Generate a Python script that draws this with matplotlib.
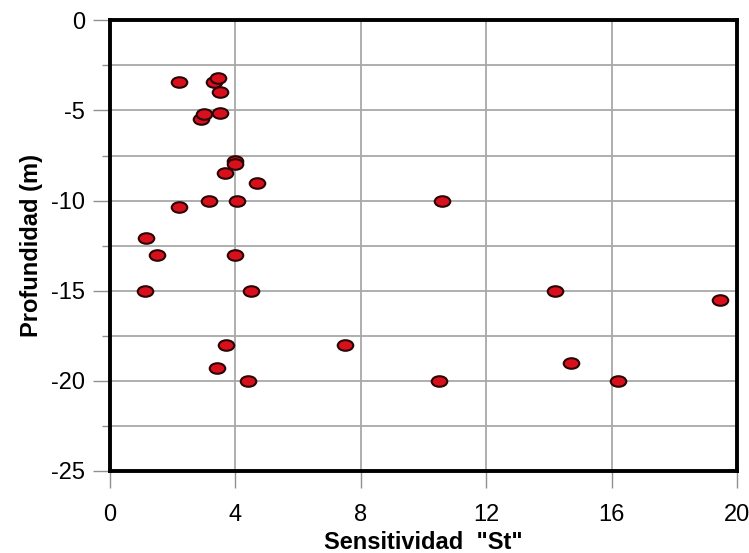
import numpy as np
import matplotlib
matplotlib.use("Agg")
import matplotlib.pyplot as plt
from matplotlib.path import Path

# sensitivity St vs depth (m)
st = [2.2, 3.3, 3.45, 3.5, 2.9, 3.0, 3.5, 4.0, 4.0, 3.65, 4.7,
      3.15, 4.05, 10.6, 2.2, 1.15, 1.5, 4.0, 1.1, 4.5, 14.2, 19.45,
      3.7, 7.5, 3.4, 14.7, 4.4, 10.5, 16.2]
depth = [-3.4, -3.4, -3.2, -3.95, -5.45, -5.2, -5.15, -7.8, -7.95, -8.45, -9.0,
         -10.0, -10.0, -10.0, -10.35, -12.1, -13.0, -13.0, -15.0, -15.0, -15.0, -15.5,
         -18.0, -18.0, -19.3, -19.0, -20.0, -20.0, -20.0]

x_ticks = [0, 4, 8, 12, 16, 20]
y_ticks = [0, -5, -10, -15, -20, -25]

plt.rcParams["font.family"] = "Liberation Sans"
plt.rcParams["axes.unicode_minus"] = False

# flattened ellipse marker
circ = Path.unit_circle()
ellipse = Path(circ.vertices * np.array([1.0, 0.68]), circ.codes)

fig = plt.figure(figsize=(7.49, 5.53), dpi=100)
ax = fig.add_axes([0.147, 0.149, 0.837, 0.814])

ax.scatter(st, depth, marker=ellipse, s=125, facecolor="#d8101c",
           edgecolor="#2a0505", linewidth=1.5, zorder=3)

ax.set_xlim(0, 20)
ax.set_ylim(-25, 0)
ax.set_xticks(x_ticks)
ax.set_yticks(y_ticks)
ax.set_yticks(np.arange(-22.5, 0, 5), minor=True)
ax.grid(True, which="both", color="#a8a8a8", linewidth=1.3)
ax.set_axisbelow(True)

for s in ax.spines.values():
    s.set_linewidth(2.8)
    s.set_color("black")

ax.tick_params(axis="both", which="major", length=12, width=1, color="#909090",
               labelsize=17, pad=6)
ax.tick_params(axis="y", which="minor", length=6, width=1, color="#909090")
ax.tick_params(axis="x", pad=12)

ax.set_xlabel('Sensitividad  "St"', fontsize=17, fontweight="bold", labelpad=4)
ax.set_ylabel("Profundidad (m)", fontsize=17, fontweight="bold", labelpad=6)

fig.savefig("out.png", dpi=100)
plt.close(fig)
